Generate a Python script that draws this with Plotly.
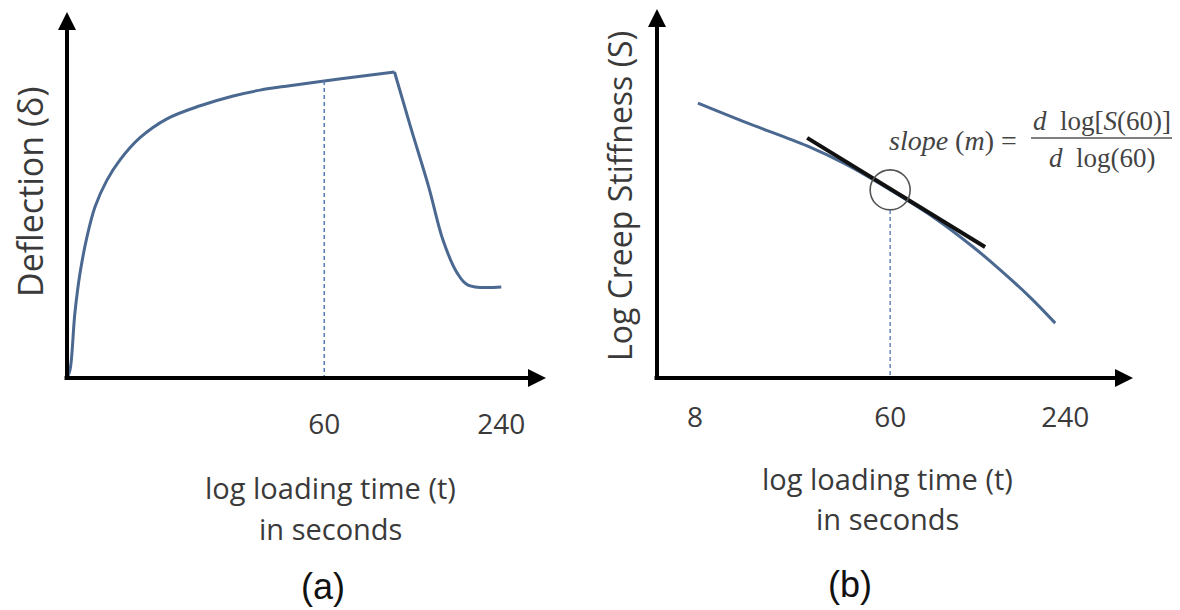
import math
import plotly.graph_objects as go

W, H = 1180, 610

# ---- panel (a): deflection vs log loading time ----
time_a = [8.0, 8.19, 8.51, 8.86, 9.35, 9.96, 10.94, 12.12, 14.17, 17.5, 22.7, 29.4,
          36.3, 44.5, 60, 77.5, 104, 118, 136, 152, 170, 185, 240]
deflection_a = [0.0, 0.022, 0.179, 0.289, 0.388, 0.471, 0.545, 0.601, 0.662, 0.714,
                0.750, 0.777, 0.793, 0.804, 0.818, 0.830, 0.843,
                0.691, 0.526, 0.380, 0.289, 0.256, 0.251]
ticks_a = [60, 240]
ticklabels_a = ["60", "240"]

# ---- panel (b): log creep stiffness vs log loading time (schematic positions) ----
pos_b = [9.0, 19.3, 31.9, 40.3, 49.3, 58.3, 66.7, 71.7, 78.6, 83.9]
stiff_b = [0.751, 0.697, 0.634, 0.582, 0.514, 0.440, 0.358, 0.303, 0.221, 0.150]
tangent_pos = [31.9, 69.2]
tangent_val = [0.656, 0.358]
ticks_b = [8.4, 49.3, 86.0]
ticklabels_b = ["8", "60", "240"]
t60_index = 4  # point of pos_b / stiff_b at t = 60 s

CURVE = "#4a6890"
DASH = "#5b7fb5"
TXT = "#3a3a3a"
FONT = "Open Sans"


def px(x):
    return x / W


def py(y):
    return 1 - y / H


fig = go.Figure()

# loading branch and recovery branch of the deflection curve
peak = deflection_a.index(max(deflection_a))
for sl in (slice(0, peak + 1), slice(peak, len(time_a))):
    fig.add_trace(go.Scatter(x=time_a[sl], y=deflection_a[sl], mode="lines",
                             line=dict(color=CURVE, width=3, shape="spline", smoothing=1.0),
                             xaxis="x", yaxis="y", cliponaxis=False, hoverinfo="skip"))

# dashed marker at t = 60 s
i60 = time_a.index(60)
fig.add_trace(go.Scatter(x=[60, 60], y=[deflection_a[i60], 0], mode="lines",
                         line=dict(color=DASH, width=1.6, dash="4px,3px"),
                         xaxis="x", yaxis="y", cliponaxis=False, hoverinfo="skip"))

# stiffness curve
fig.add_trace(go.Scatter(x=pos_b, y=stiff_b, mode="lines",
                         line=dict(color=CURVE, width=3, shape="spline", smoothing=1.0),
                         xaxis="x2", yaxis="y2", cliponaxis=False, hoverinfo="skip"))

# tangent line at t = 60 s
fig.add_trace(go.Scatter(x=tangent_pos, y=tangent_val, mode="lines",
                         line=dict(color="#111111", width=4),
                         xaxis="x2", yaxis="y2", cliponaxis=False, hoverinfo="skip"))

# circle around the tangent point and dashed drop to the time axis
circle_r_px = 20
yb_top, yb_bot = 12, 378
r_val = circle_r_px / (yb_bot - yb_top)
fig.add_trace(go.Scatter(x=[pos_b[t60_index]], y=[stiff_b[t60_index]], mode="markers",
                         marker=dict(symbol="circle-open", size=2 * circle_r_px,
                                     color="#555555", line=dict(color="#555555", width=1.6)),
                         xaxis="x2", yaxis="y2", cliponaxis=False, hoverinfo="skip"))
fig.add_trace(go.Scatter(x=[pos_b[t60_index]] * 2, y=[stiff_b[t60_index] - r_val, 0],
                         mode="lines", line=dict(color=DASH, width=1.4, dash="4px,3px"),
                         xaxis="x2", yaxis="y2", cliponaxis=False, hoverinfo="skip"))

axis_common = dict(showgrid=False, zeroline=False, showline=False, ticks="",
                   fixedrange=True)

fig.update_layout(
    width=W, height=H,
    margin=dict(l=0, r=0, t=0, b=0),
    paper_bgcolor="white", plot_bgcolor="rgba(0,0,0,0)",
    showlegend=False,
    font=dict(family=FONT, color=TXT),
    xaxis=dict(domain=[px(67), px(545)], type="log",
               range=[math.log10(8), math.log10(338)],
               tickvals=ticks_a, ticktext=ticklabels_a,
               tickfont=dict(size=28, family=FONT, color=TXT),
               ticklabelstandoff=27, anchor="y", **axis_common),
    yaxis=dict(domain=[py(378), py(15)], range=[0, 1], showticklabels=False,
               anchor="x", **axis_common),
    xaxis2=dict(domain=[px(655), px(1132)], range=[0, 100],
                tickvals=ticks_b, ticktext=ticklabels_b,
                tickfont=dict(size=28, family=FONT, color=TXT),
                ticklabelstandoff=20, anchor="y2", **axis_common),
    yaxis2=dict(domain=[py(378), py(12)], range=[0, 1], showticklabels=False,
                anchor="x2", **axis_common),
)

ann = []


def arrow(x_head, y_head, dx, dy):
    # axis line drawn tail -> head with an arrowhead at the head
    ann.append(dict(x=px(x_head), y=py(y_head), xref="paper", yref="paper",
                    ax=dx, ay=dy, axref="pixel", ayref="pixel", text="",
                    showarrow=True, arrowhead=2, arrowsize=0.9, arrowwidth=4,
                    arrowcolor="#000000", standoff=0, startstandoff=0))


# axes of panel (a)
arrow(67, 12, 0, 368)
arrow(546, 378, -483, 0)
# axes of panel (b)
arrow(657, 9, 0, 371)
arrow(1133, 378, -480, 0)


def text(x, y, s, size, family=FONT, angle=0, color=TXT):
    ann.append(dict(x=px(x), y=py(y), xref="paper", yref="paper", text=s,
                    showarrow=False, textangle=angle, xanchor="center",
                    yanchor="middle", font=dict(size=size, family=family, color=color)))


text(30, 192, "Deflection (δ)", 34, angle=-90)
text(619, 196, "Log Creep Stiffness (S)", 32, angle=-90)

text(330, 487, "log loading time (t)", 29)
text(330, 528, "in seconds", 29)
text(887, 478, "log loading time (t)", 29)
text(887, 518, "in seconds", 29)

text(323, 586, "(a)", 36, family="Liberation Sans", color="#111111")
text(850, 584, "(b)", 36, family="Liberation Sans", color="#111111")

# slope formula
SERIF = "Liberation Serif"
text(953, 140, "<i>slope</i> (<i>m</i>) =", 28, family=SERIF, color="#444444")
text(1102, 121, "<i>d</i>  log[<i>S</i>(60)]", 27, family=SERIF, color="#444444")
text(1102, 158, "<i>d</i>  log(60)", 27, family=SERIF, color="#444444")

fig.update_layout(annotations=ann)
fig.add_shape(type="line", xref="paper", yref="paper",
              x0=px(1031), x1=px(1172), y0=py(138), y1=py(138),
              line=dict(color="#555555", width=1.5))

fig.write_html("out.html")
